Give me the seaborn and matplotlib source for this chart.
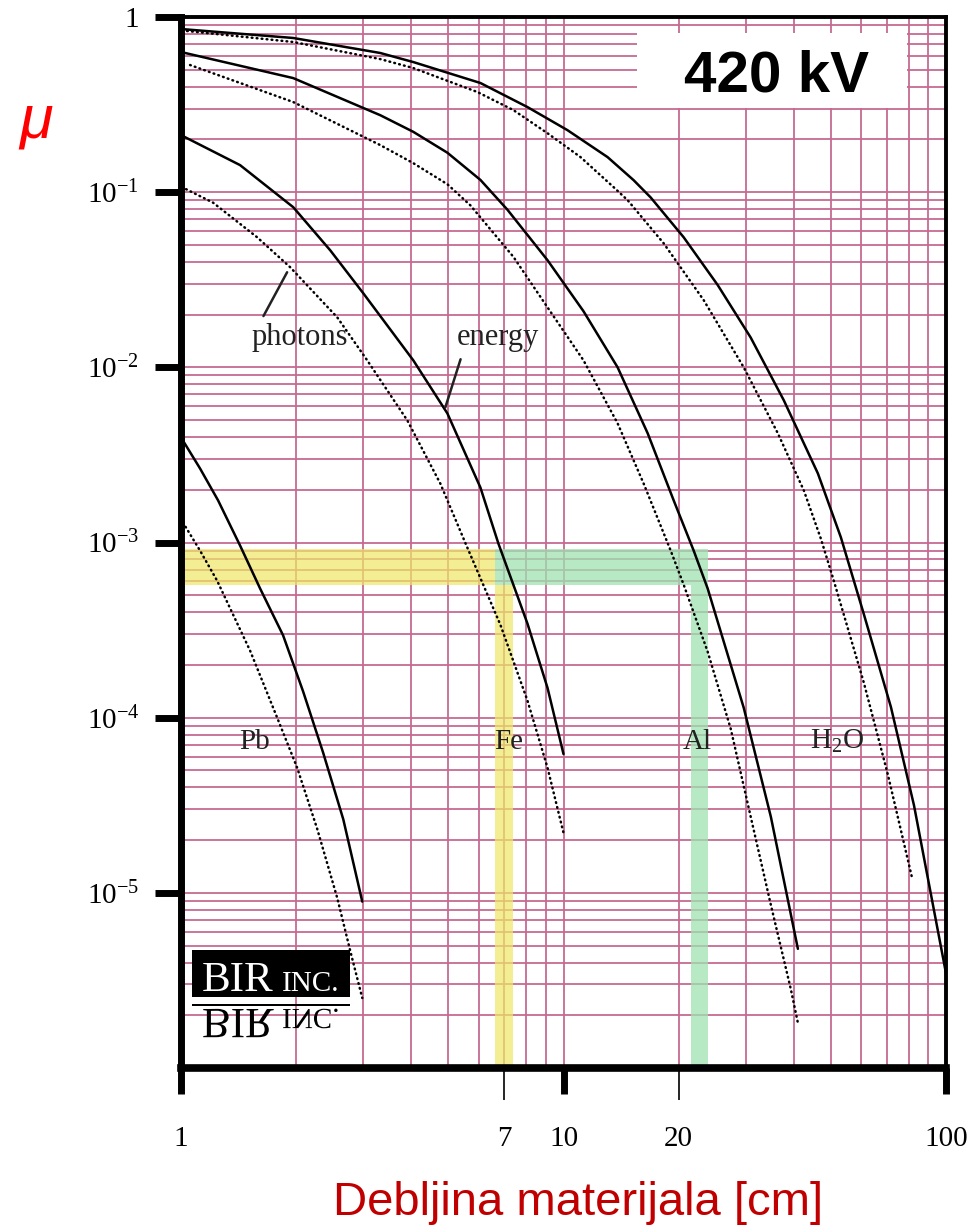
import numpy as np
import pandas as pd
import matplotlib
matplotlib.use('Agg')
import matplotlib.pyplot as plt
import seaborn as sns
import matplotlib.transforms as mtransforms
from matplotlib.ticker import LogLocator, FixedLocator, FixedFormatter, NullFormatter
from matplotlib.patches import Rectangle, PathPatch
from matplotlib.textpath import TextPath
from matplotlib.font_manager import FontProperties

# values (thickness in cm, relative value)
pb_energy_x = [1.0, 1.121, 1.25, 1.427, 1.61, 1.849, 2.086, 2.353, 2.656, 2.978]
pb_energy_y = [3.98e-3, 2.65e-3, 1.74e-3, 9.61e-4, 5.46e-4, 2.95e-4, 1.41e-4, 6.31e-5, 2.63e-5, 8.91e-6]
pb_photon_x = [1.012, 1.121, 1.242, 1.516, 1.784, 2.012, 2.27, 2.561, 2.77, 2.978]
pb_photon_y = [1.30e-3, 9.0e-4, 6.07e-4, 2.41e-4, 1.0e-4, 5.18e-5, 2.32e-5, 9.36e-6, 4.66e-6, 2.51e-6]

fe_energy_x = [1.0, 1.427, 1.965, 2.455, 2.995, 4.049, 4.97, 6.064, 6.757, 8.051, 9.082, 10.0]
fe_energy_y = [0.2117, 0.1427, 0.0821, 0.0466, 0.0265, 0.01096, 5.46e-3, 2.06e-3, 9.87e-4, 3.44e-4, 1.48e-4, 6.2e-5]
fe_photon_x = [1.031, 1.213, 1.581, 1.929, 2.561, 3.068, 3.905, 4.764, 5.607, 6.839, 8.051, 9.082, 10.0]
fe_photon_y = [0.104, 0.0871, 0.0553, 0.0373, 0.0193, 0.01096, 4.98e-3, 2.17e-3, 9.33e-4, 3.39e-4, 1.25e-4, 5.18e-5, 2.2e-5]

al_energy_x = [1.0, 1.965, 3.319, 4.049, 4.97, 6.064, 7.135, 9.082, 11.28, 13.85, 16.6, 19.41,
               21.89, 23.82, 29.59, 34.84, 41.0]
al_energy_y = [0.631, 0.448, 0.275, 0.221, 0.168, 0.1175, 0.0794, 0.0409, 0.0209, 0.01, 4.2e-3, 1.74e-3,
               9.0e-4, 5.46e-4, 1.14e-4, 2.72e-5, 4.79e-6]
al_photon_x = [1.056, 1.965, 3.319, 4.049, 4.97, 5.709, 7.398, 9.082, 11.28, 13.85, 16.2, 19.06,
               20.61, 23.82, 27.36, 30.86, 34.84, 39.29, 41.0]
al_photon_y = [0.532, 0.327, 0.1856, 0.1464, 0.111, 0.0841, 0.0427, 0.022, 0.01096, 4.79e-3, 2.17e-3, 9.0e-4,
               5.75e-4, 2.38e-4, 8.65e-5, 2.72e-5, 8.54e-6, 2.82e-6, 1.81e-6]

h2o_energy_x = [1.0, 1.965, 3.319, 4.049, 6.064, 8.051, 10.24, 13.04, 15.25, 16.9, 20.61, 25.3,
                30.86, 37.67, 46.24, 53.11, 61.0, 71.78, 82.47, 93.03, 100.0]
h2o_energy_y = [0.854, 0.759, 0.623, 0.553, 0.42, 0.306, 0.226, 0.1585, 0.1171, 0.0933, 0.0553, 0.0295,
                0.01479, 6.48e-3, 2.48e-3, 1.07e-3, 3.89e-4, 1.15e-4, 3.16e-5, 7.94e-6, 3.47e-6]
h2o_photon_x = [1.037, 1.965, 3.319, 4.049, 5.955, 7.398, 9.082, 11.08, 13.52, 14.71, 18.27, 23.25,
                29.59, 36.34, 42.5, 47.09, 50.92, 61.0, 70.49, 81.5]
h2o_photon_y = [0.832, 0.72, 0.575, 0.511, 0.373, 0.294, 0.217, 0.1585, 0.1068, 0.09, 0.0511, 0.0242,
                0.01, 4.2e-3, 1.98e-3, 1.05e-3, 6.03e-4, 1.58e-4, 4.72e-5, 1.22e-5]

# highlighted reading: mu ~ 7e-4 -> 7 cm Fe, ~22 cm Al
band_mu = [5.7e-4, 9.2e-4]
fe_cut = [6.64, 7.40]
al_cut = [21.5, 23.8]

x_ticks = [1, 7, 10, 20, 100]
x_tick_labels = ['1', '7', '10', '20', '100']
y_ticks = [1e-5, 1e-4, 1e-3, 1e-2, 1e-1, 1]
y_tick_labels = ['$10^{-5}$', '$10^{-4}$', '$10^{-3}$', '$10^{-2}$', '$10^{-1}$', '1']

curves = [
    ('Pb', 'energy', pb_energy_x, pb_energy_y),
    ('Pb', 'photons', pb_photon_x, pb_photon_y),
    ('Fe', 'energy', fe_energy_x, fe_energy_y),
    ('Fe', 'photons', fe_photon_x, fe_photon_y),
    ('Al', 'energy', al_energy_x, al_energy_y),
    ('Al', 'photons', al_photon_x, al_photon_y),
    ('H2O', 'energy', h2o_energy_x, h2o_energy_y),
    ('H2O', 'photons', h2o_photon_x, h2o_photon_y),
]
df = pd.concat([pd.DataFrame({'x': xs, 'y': ys, 'material': m, 'kind': k})
                for m, k, xs, ys in curves], ignore_index=True)

sns.set_style('ticks')
plt.rcParams['font.family'] = ['Liberation Serif', 'DejaVu Serif']
plt.rcParams['mathtext.fontset'] = 'custom'
plt.rcParams['mathtext.rm'] = 'Liberation Serif'
plt.rcParams['mathtext.default'] = 'rm'
plt.rcParams['text.color'] = 'black'
plt.rcParams['xtick.color'] = 'black'
plt.rcParams['ytick.color'] = 'black'
plt.rcParams['lines.dash_capstyle'] = 'round'
plt.rcParams['lines.solid_joinstyle'] = 'round'

fig = plt.figure(figsize=(9.8, 12.27), dpi=100)
ax = fig.add_axes([181 / 980, 1 - 1068 / 1227, 765 / 980, 1051 / 1227])
ax.set_xscale('log')
ax.set_yscale('log')

grid_col = '#c56a92'
ax.set_axisbelow(True)
ax.grid(True, which='both', color=grid_col, lw=1.3, ls='-')

yellow = '#eee866'
green = '#9fe3b0'
ax.fill_between([1, fe_cut[0]], band_mu[0], band_mu[1], color=yellow, alpha=0.7, lw=0, zorder=1)
ax.fill_between(fe_cut, 1e-6, band_mu[0], color=yellow, alpha=0.7, lw=0, zorder=1)
ax.fill_between([fe_cut[0], al_cut[1]], band_mu[0], band_mu[1], color=green, alpha=0.75, lw=0, zorder=1)
ax.fill_between(al_cut, 1e-6, band_mu[0], color=green, alpha=0.75, lw=0, zorder=1)

sns.lineplot(data=df, x='x', y='y', hue='material', style='kind',
             palette={m: 'black' for m in ['Pb', 'Fe', 'Al', 'H2O']},
             dashes={'energy': '', 'photons': (0.3, 1.7)},
             estimator=None, sort=False, linewidth=1.8, legend=False, ax=ax, zorder=3)

ax.set_xlim(1, 100)
ax.set_ylim(1e-6, 1)

ax.xaxis.set_major_locator(FixedLocator(x_ticks))
ax.xaxis.set_major_formatter(FixedFormatter(x_tick_labels))
ax.xaxis.set_minor_locator(LogLocator(base=10, subs=np.arange(2, 10), numticks=50))
ax.xaxis.set_minor_formatter(NullFormatter())
ax.yaxis.set_major_locator(FixedLocator(y_ticks))
ax.yaxis.set_major_formatter(FixedFormatter(y_tick_labels))
ax.yaxis.set_minor_locator(LogLocator(base=10, subs=np.arange(2, 10), numticks=50))
ax.yaxis.set_minor_formatter(NullFormatter())

ax.tick_params(which='major', direction='out', length=19, width=5, labelsize=21,
               labelfontfamily='Liberation Serif')
ax.tick_params(axis='x', which='major', pad=23)
ax.tick_params(axis='y', which='major', pad=11)
ax.tick_params(which='minor', length=0)
for t, v in zip(ax.xaxis.get_major_ticks(), x_ticks):
    if v in (7, 20):
        t.tick1line.set_markeredgewidth(1.2)
        t.tick1line.set_markersize(23)
        t.tick1line.set_color('#444444')

for side, w in [('left', 5), ('bottom', 5.5), ('top', 2.8), ('right', 2.8)]:
    ax.spines[side].set_linewidth(w)
    ax.spines[side].set_color('black')
    ax.spines[side].set_zorder(6)

ax.set_xlabel('Debljina materijala [cm]', color='#c00000', fontsize=34,
              family='Liberation Sans', va='baseline')
ax.xaxis.set_label_coords(0.519, -0.14)
ax.set_ylabel('μ', color='#ff0000', fontsize=44, family='Liberation Sans',
              fontstyle='italic', rotation=0, ha='center', va='center')
ax.yaxis.set_label_coords(-0.19, 0.90)

# material names
for name, xv, yv in [('Pb', 1.56, 7.3e-5), ('Fe', 7.18, 7.3e-5),
                     ('Al', 22.4, 7.3e-5), ('H$_2$O', 51.8, 7.3e-5)]:
    ax.text(xv, yv, name, fontsize=21, ha='center', va='center', color='#222222', zorder=4)

ax.annotate('photons', xy=(1.894, 0.0349), xytext=(2.05, 0.0148), fontsize=22,
            ha='center', va='center', color='#222222',
            arrowprops=dict(arrowstyle='-', lw=1.8, color='#222222', relpos=(0.08, 1.0),
                            shrinkA=3, shrinkB=0))
ax.annotate('energy', xy=(4.91, 0.00591), xytext=(6.72, 0.0148), fontsize=22,
            ha='center', va='center', color='#222222',
            arrowprops=dict(arrowstyle='-', lw=1.8, color='#222222', relpos=(0.08, 0.0),
                            shrinkA=3, shrinkB=0))

# voltage box
ax.add_patch(Rectangle((0.596, 0.913), 0.353, 0.072, transform=ax.transAxes,
                       facecolor='white', edgecolor='none', zorder=4))
ax.text(0.778, 0.9287, '420 kV', transform=ax.transAxes, fontsize=42, fontweight='bold',
        family='Liberation Sans', ha='center', va='baseline', zorder=5)

# BIR logo with its mirror image
ax.add_patch(Rectangle((0.0144, 0.0676), 0.2065, 0.0447, transform=ax.transAxes,
                       facecolor='black', edgecolor='none', zorder=4))
ax.add_patch(Rectangle((0.0144, 0.0590), 0.2065, 0.0022, transform=ax.transAxes,
                       facecolor='black', edgecolor='none', zorder=4))
ax.text(0.0275, 0.0735, 'BIR', transform=ax.transAxes, fontsize=31, color='white',
        ha='left', va='baseline', zorder=5)
ax.text(0.1325, 0.0735, 'INC.', transform=ax.transAxes, fontsize=21, color='white',
        ha='left', va='baseline', zorder=5)

serif = FontProperties(family='Liberation Serif')
for word, size, x_px in [('BIR', 31, 202), ('INC.', 21, 282)]:
    tp = TextPath((0, 0), word, size=size, prop=serif)
    tr = mtransforms.Affine2D().scale(1 / 72, -1 / 72).translate(x_px / 100, (1227 - 1009) / 100)
    fig.add_artist(PathPatch(tp, transform=tr + fig.dpi_scale_trans, facecolor='black',
                             edgecolor='none', zorder=5))

fig.savefig('out.png', dpi=100)
